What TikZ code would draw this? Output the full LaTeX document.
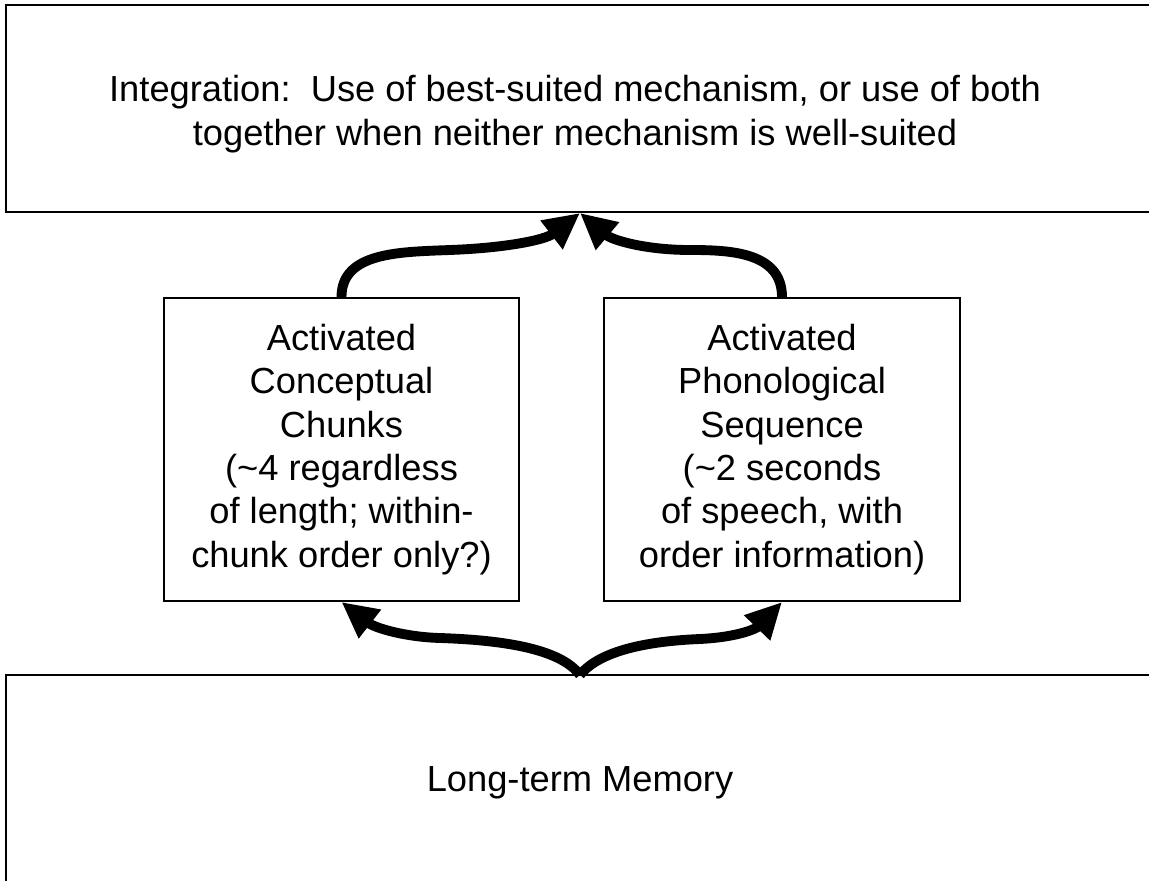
\documentclass[tikz,border=0pt]{standalone}
\usepackage{fontspec}
\setmainfont{Liberation Sans}
\usetikzlibrary{arrows.meta}
\def\moji{\fontsize{25.8pt}{30.8pt}\selectfont}

\begin{document}
\begin{tikzpicture}[x=0.025cm, y=-0.025cm,
    kakoi/.style={draw, line width=1.4pt, inner sep=0pt},
    yajirushi/.style={line width=7pt, -{Triangle[length=0.9cm,width=0.85cm]}},
    bun/.style={align=center, font=\moji, inner sep=0pt}]

  \clip (0,0) rectangle (1149,880); %描画範囲

  % 上の箱
  \node[kakoi, minimum width=29.35cm, minimum height=5.175cm] (togo) at (593,108.5) {}; %統合の箱
  \node[bun] (togobun) at (575,114) {Integration:\ \ Use of best-suited mechanism, or use of both\\together when neither mechanism is well-suited}; %統合の文

  % 中段の箱
  \node[kakoi, bun, minimum width=8.875cm, minimum height=7.575cm] (cc) at (341.5,449.5)
    {Activated\\Conceptual\\Chunks\\(\textasciitilde 4 regardless\\of length; within-\\chunk order only?)}; %概念チャンク
  \node[kakoi, bun, minimum width=8.875cm, minimum height=7.575cm] (pc) at (782,449.5)
    {Activated\\Phonological\\Sequence\\(\textasciitilde 2 seconds\\of speech, with\\order information)}; %音韻系列

  % 下の箱
  \node[kakoi, minimum width=29.35cm, minimum height=5.25cm] (ltm) at (593,780) {}; %長期記憶の箱
  \node[bun] (ltmbun) at (580,783) {Long-term Memory}; %長期記憶の文

  \coordinate (ue) at (580,213); %上の合流点
  \coordinate (shita) at (580,675); %下の分岐点

  % 上向きの矢印
  \draw[yajirushi] (cc.north) .. controls +(0,-45) and (400,252) .. (450,250)
    .. controls (505,248) and (545,240) .. (ue);
  \draw[yajirushi] (pc.north) .. controls +(0,-45) and (730,250) .. (690,250)
    .. controls (645,250) and (612,240) .. (ue);

  % 下からの矢印
  \draw[yajirushi] (shita) .. controls (560,648) and (500,640) .. (440,638)
    .. controls (405,637) and (375,628) .. (cc.south);
  \draw[yajirushi] (shita) .. controls (600,650) and (650,641) .. (700,639)
    .. controls (740,637) and (757,628) .. (pc.south);

\end{tikzpicture}
\end{document}
